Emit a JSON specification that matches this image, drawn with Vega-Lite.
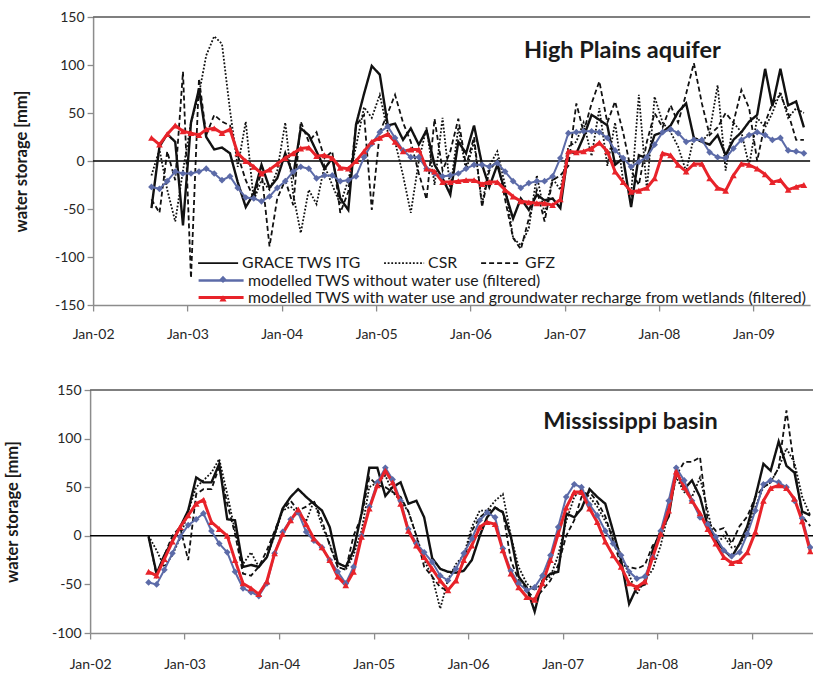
{
"$schema": "https://vega.github.io/schema/vega-lite/v6.json",
"padding": {"left": 4, "top": 10, "right": 0, "bottom": 0},
"background": "white",
"config": {
  "font": "Lato",
  "view": {"stroke": null},
  "axis": {"labelFont": "Lato", "labelFontSize": 14, "labelColor": "#262626", "titleFont": "Lato", "titleFontSize": 16.5, "titleFontWeight": "bold", "titleColor": "#1a1a1a", "domainColor": "#8c8c8c", "domainWidth": 1.5, "tickColor": "#8c8c8c", "tickWidth": 1.3, "grid": false},
  "legend": {"labelFont": "Lato", "labelFontSize": 15.8, "labelColor": "#1a1a1a", "padding": 0, "labelLimit": 0}
},
"datasets": {
"hp": [
{"d":"2002-08-15","itg":-49,"csr":-15,"gfz":-40,"nw":-27,"ww":24},
{"d":"2002-09-15","itg":15,"csr":12,"gfz":-54,"nw":-29,"ww":17},
{"d":"2002-10-15","itg":28,"csr":-30,"gfz":10,"nw":-21,"ww":28},
{"d":"2002-11-15","itg":20,"csr":-63,"gfz":-20,"nw":-11,"ww":37},
{"d":"2002-12-15","itg":-67,"csr":-10,"gfz":93,"nw":-13,"ww":31},
{"d":"2003-01-15","itg":40,"csr":40,"gfz":-122,"nw":-13,"ww":29},
{"d":"2003-02-15","itg":75,"csr":70,"gfz":86,"nw":-11,"ww":27},
{"d":"2003-03-15","itg":25,"csr":110,"gfz":27,"nw":-8,"ww":33},
{"d":"2003-04-15","itg":12,"csr":130,"gfz":48,"nw":-13,"ww":34},
{"d":"2003-05-15","itg":14,"csr":122,"gfz":41,"nw":-20,"ww":29},
{"d":"2003-06-15","itg":8,"csr":53,"gfz":37,"nw":-16,"ww":33},
{"d":"2003-07-15","itg":-22,"csr":-6,"gfz":6,"nw":-28,"ww":8},
{"d":"2003-08-15","itg":-48,"csr":41,"gfz":-20,"nw":-38,"ww":0},
{"d":"2003-09-15","itg":-34,"csr":-41,"gfz":-39,"nw":-39,"ww":-6},
{"d":"2003-10-15","itg":-4,"csr":-20,"gfz":-11,"nw":-42,"ww":-13},
{"d":"2003-11-15","itg":-28,"csr":-30,"gfz":-89,"nw":-37,"ww":-9},
{"d":"2003-12-15","itg":-18,"csr":-10,"gfz":-39,"nw":-28,"ww":-3},
{"d":"2004-01-15","itg":8,"csr":40,"gfz":-20,"nw":-21,"ww":3},
{"d":"2004-02-15","itg":-15,"csr":-35,"gfz":-46,"nw":-11,"ww":8},
{"d":"2004-03-15","itg":34,"csr":-75,"gfz":41,"nw":-6,"ww":13},
{"d":"2004-04-15","itg":27,"csr":-30,"gfz":20,"nw":-8,"ww":14},
{"d":"2004-05-15","itg":10,"csr":-45,"gfz":30,"nw":-18,"ww":5},
{"d":"2004-06-15","itg":-8,"csr":-5,"gfz":3,"nw":-15,"ww":6},
{"d":"2004-07-15","itg":3,"csr":-25,"gfz":10,"nw":-15,"ww":3},
{"d":"2004-08-15","itg":-39,"csr":-45,"gfz":-54,"nw":-21,"ww":-7},
{"d":"2004-09-15","itg":-51,"csr":-20,"gfz":-32,"nw":-20,"ww":-8},
{"d":"2004-10-15","itg":38,"csr":15,"gfz":37,"nw":-16,"ww":0},
{"d":"2004-11-15","itg":70,"csr":56,"gfz":48,"nw":4,"ww":10},
{"d":"2004-12-15","itg":99,"csr":45,"gfz":-51,"nw":18,"ww":20},
{"d":"2005-01-15","itg":90,"csr":69,"gfz":30,"nw":30,"ww":24},
{"d":"2005-02-15","itg":37,"csr":30,"gfz":50,"nw":36,"ww":28},
{"d":"2005-03-15","itg":39,"csr":20,"gfz":69,"nw":24,"ww":20},
{"d":"2005-04-15","itg":22,"csr":-15,"gfz":40,"nw":11,"ww":10},
{"d":"2005-05-15","itg":34,"csr":-54,"gfz":20,"nw":4,"ww":12},
{"d":"2005-06-15","itg":17,"csr":0,"gfz":-13,"nw":4,"ww":12},
{"d":"2005-07-15","itg":32,"csr":35,"gfz":-40,"nw":-8,"ww":-8},
{"d":"2005-08-15","itg":-4,"csr":-25,"gfz":44,"nw":-13,"ww":-11},
{"d":"2005-09-15","itg":-18,"csr":45,"gfz":-10,"nw":-16,"ww":-22},
{"d":"2005-10-15","itg":-35,"csr":-30,"gfz":10,"nw":-15,"ww":-22},
{"d":"2005-11-15","itg":20,"csr":35,"gfz":44,"nw":-13,"ww":-21},
{"d":"2005-12-15","itg":8,"csr":-10,"gfz":-5,"nw":-8,"ww":-20},
{"d":"2006-01-15","itg":37,"csr":20,"gfz":25,"nw":-4,"ww":-20},
{"d":"2006-02-15","itg":-4,"csr":-45,"gfz":-48,"nw":-4,"ww":-24},
{"d":"2006-03-15","itg":-27,"csr":-5,"gfz":-10,"nw":-6,"ww":-22},
{"d":"2006-04-15","itg":-4,"csr":10,"gfz":1,"nw":-2,"ww":-22},
{"d":"2006-05-15","itg":-32,"csr":-25,"gfz":-40,"nw":-11,"ww":-30},
{"d":"2006-06-15","itg":-60,"csr":-80,"gfz":-80,"nw":-21,"ww":-37},
{"d":"2006-07-15","itg":-39,"csr":-88,"gfz":-92,"nw":-28,"ww":-42},
{"d":"2006-08-15","itg":-51,"csr":-70,"gfz":-60,"nw":-23,"ww":-43},
{"d":"2006-09-15","itg":-35,"csr":-15,"gfz":-30,"nw":-21,"ww":-44},
{"d":"2006-10-15","itg":-41,"csr":-55,"gfz":-63,"nw":-21,"ww":-44},
{"d":"2006-11-15","itg":-39,"csr":-18,"gfz":-20,"nw":-16,"ww":-46},
{"d":"2006-12-15","itg":-49,"csr":-30,"gfz":-15,"nw":3,"ww":-40},
{"d":"2007-01-15","itg":10,"csr":15,"gfz":-5,"nw":29,"ww":10},
{"d":"2007-02-15","itg":8,"csr":20,"gfz":60,"nw":30,"ww":9},
{"d":"2007-03-15","itg":25,"csr":40,"gfz":30,"nw":31,"ww":10},
{"d":"2007-04-15","itg":48,"csr":5,"gfz":60,"nw":31,"ww":13},
{"d":"2007-05-15","itg":43,"csr":55,"gfz":83,"nw":30,"ww":19},
{"d":"2007-06-15","itg":37,"csr":-5,"gfz":40,"nw":24,"ww":10},
{"d":"2007-07-15","itg":-4,"csr":40,"gfz":62,"nw":11,"ww":-11},
{"d":"2007-08-15","itg":3,"csr":-20,"gfz":30,"nw":3,"ww":-22},
{"d":"2007-09-15","itg":-48,"csr":-35,"gfz":-10,"nw":-6,"ww":-32},
{"d":"2007-10-15","itg":6,"csr":69,"gfz":-25,"nw":-1,"ww":-31},
{"d":"2007-11-15","itg":3,"csr":-30,"gfz":20,"nw":4,"ww":-28},
{"d":"2007-12-15","itg":27,"csr":67,"gfz":50,"nw":17,"ww":-18},
{"d":"2008-01-15","itg":30,"csr":40,"gfz":35,"nw":30,"ww":8},
{"d":"2008-02-15","itg":37,"csr":30,"gfz":58,"nw":33,"ww":6},
{"d":"2008-03-15","itg":51,"csr":15,"gfz":40,"nw":29,"ww":-4},
{"d":"2008-04-15","itg":60,"csr":-11,"gfz":70,"nw":20,"ww":-11},
{"d":"2008-05-15","itg":24,"csr":25,"gfz":102,"nw":22,"ww":-3},
{"d":"2008-06-15","itg":20,"csr":20,"gfz":60,"nw":22,"ww":-3},
{"d":"2008-07-15","itg":17,"csr":30,"gfz":27,"nw":9,"ww":-18},
{"d":"2008-08-15","itg":27,"csr":79,"gfz":35,"nw":4,"ww":-28},
{"d":"2008-09-15","itg":6,"csr":-10,"gfz":50,"nw":3,"ww":-31},
{"d":"2008-10-15","itg":22,"csr":40,"gfz":40,"nw":13,"ww":-15},
{"d":"2008-11-15","itg":30,"csr":30,"gfz":74,"nw":22,"ww":-3},
{"d":"2008-12-15","itg":41,"csr":-5,"gfz":55,"nw":27,"ww":-4},
{"d":"2009-01-15","itg":48,"csr":45,"gfz":0,"nw":30,"ww":-8},
{"d":"2009-02-15","itg":96,"csr":35,"gfz":40,"nw":27,"ww":-14},
{"d":"2009-03-15","itg":57,"csr":50,"gfz":60,"nw":22,"ww":-22},
{"d":"2009-04-15","itg":96,"csr":72,"gfz":69,"nw":24,"ww":-20},
{"d":"2009-05-15","itg":58,"csr":45,"gfz":50,"nw":11,"ww":-30},
{"d":"2009-06-15","itg":62,"csr":55,"gfz":22,"nw":10,"ww":-27},
{"d":"2009-07-15","itg":35,"csr":50,"gfz":22,"nw":8,"ww":-25}
],
"ms": [
{"d":"2002-08-15","itg":-1,"csr":0,"gfz":0,"nw":-48,"ww":-37},
{"d":"2002-09-15","itg":-39,"csr":-15,"gfz":-41,"nw":-50,"ww":-41},
{"d":"2002-10-15","itg":-20,"csr":-32,"gfz":-20,"nw":-35,"ww":-24},
{"d":"2002-11-15","itg":-5,"csr":-20,"gfz":0,"nw":-18,"ww":-6},
{"d":"2002-12-15","itg":9,"csr":-2,"gfz":9,"nw":-1,"ww":9},
{"d":"2003-01-15","itg":26,"csr":25,"gfz":-25,"nw":11,"ww":21},
{"d":"2003-02-15","itg":60,"csr":50,"gfz":43,"nw":17,"ww":33},
{"d":"2003-03-15","itg":55,"csr":57,"gfz":48,"nw":23,"ww":37},
{"d":"2003-04-15","itg":55,"csr":65,"gfz":48,"nw":5,"ww":14},
{"d":"2003-05-15","itg":74,"csr":79,"gfz":71,"nw":-8,"ww":7},
{"d":"2003-06-15","itg":17,"csr":43,"gfz":33,"nw":-17,"ww":0},
{"d":"2003-07-15","itg":16,"csr":5,"gfz":2,"nw":-37,"ww":-25},
{"d":"2003-08-15","itg":-32,"csr":-29,"gfz":-39,"nw":-54,"ww":-49},
{"d":"2003-09-15","itg":-30,"csr":-17,"gfz":-41,"nw":-58,"ww":-54},
{"d":"2003-10-15","itg":-32,"csr":-32,"gfz":-32,"nw":-62,"ww":-60},
{"d":"2003-11-15","itg":-22,"csr":-22,"gfz":-15,"nw":-49,"ww":-47},
{"d":"2003-12-15","itg":2,"csr":0,"gfz":5,"nw":-18,"ww":-18},
{"d":"2004-01-15","itg":28,"csr":26,"gfz":26,"nw":4,"ww":2},
{"d":"2004-02-15","itg":40,"csr":30,"gfz":36,"nw":17,"ww":16},
{"d":"2004-03-15","itg":48,"csr":23,"gfz":26,"nw":24,"ww":27},
{"d":"2004-04-15","itg":40,"csr":15,"gfz":30,"nw":4,"ww":12},
{"d":"2004-05-15","itg":33,"csr":36,"gfz":36,"nw":-5,"ww":-3},
{"d":"2004-06-15","itg":26,"csr":10,"gfz":16,"nw":-12,"ww":-12},
{"d":"2004-07-15","itg":9,"csr":-8,"gfz":-10,"nw":-25,"ww":-25},
{"d":"2004-08-15","itg":-28,"csr":-32,"gfz":-32,"nw":-37,"ww":-42},
{"d":"2004-09-15","itg":-32,"csr":-35,"gfz":-35,"nw":-49,"ww":-51},
{"d":"2004-10-15","itg":-15,"csr":-20,"gfz":0,"nw":-32,"ww":-37},
{"d":"2004-11-15","itg":23,"csr":5,"gfz":20,"nw":0,"ww":-1},
{"d":"2004-12-15","itg":70,"csr":50,"gfz":60,"nw":30,"ww":28},
{"d":"2005-01-15","itg":70,"csr":55,"gfz":52,"nw":55,"ww":52},
{"d":"2005-02-15","itg":41,"csr":62,"gfz":50,"nw":70,"ww":67},
{"d":"2005-03-15","itg":50,"csr":45,"gfz":45,"nw":58,"ww":55},
{"d":"2005-04-15","itg":55,"csr":36,"gfz":40,"nw":36,"ww":33},
{"d":"2005-05-15","itg":33,"csr":25,"gfz":25,"nw":7,"ww":5},
{"d":"2005-06-15","itg":36,"csr":0,"gfz":0,"nw":-8,"ww":-10},
{"d":"2005-07-15","itg":19,"csr":-25,"gfz":-32,"nw":-17,"ww":-22},
{"d":"2005-08-15","itg":-23,"csr":-42,"gfz":-42,"nw":-27,"ww":-34},
{"d":"2005-09-15","itg":-34,"csr":-75,"gfz":-53,"nw":-41,"ww":-46},
{"d":"2005-10-15","itg":-37,"csr":-45,"gfz":-56,"nw":-46,"ww":-56},
{"d":"2005-11-15","itg":-38,"csr":-29,"gfz":-46,"nw":-34,"ww":-46},
{"d":"2005-12-15","itg":-36,"csr":-20,"gfz":-25,"nw":-18,"ww":-25},
{"d":"2006-01-15","itg":-25,"csr":9,"gfz":5,"nw":-3,"ww":-10},
{"d":"2006-02-15","itg":0,"csr":26,"gfz":19,"nw":16,"ww":9},
{"d":"2006-03-15","itg":19,"csr":26,"gfz":25,"nw":24,"ww":14},
{"d":"2006-04-15","itg":29,"csr":36,"gfz":29,"nw":19,"ww":12},
{"d":"2006-05-15","itg":24,"csr":43,"gfz":25,"nw":-13,"ww":-15},
{"d":"2006-06-15","itg":-1,"csr":0,"gfz":-25,"nw":-36,"ww":-39},
{"d":"2006-07-15","itg":-42,"csr":-32,"gfz":-46,"nw":-49,"ww":-53},
{"d":"2006-08-15","itg":-53,"csr":-49,"gfz":-56,"nw":-56,"ww":-63},
{"d":"2006-09-15","itg":-78,"csr":-56,"gfz":-65,"nw":-53,"ww":-66},
{"d":"2006-10-15","itg":-46,"csr":-48,"gfz":-56,"nw":-41,"ww":-49},
{"d":"2006-11-15","itg":-39,"csr":-42,"gfz":-46,"nw":-20,"ww":-25},
{"d":"2006-12-15","itg":-37,"csr":-20,"gfz":-30,"nw":9,"ww":2},
{"d":"2007-01-15","itg":23,"csr":15,"gfz":0,"nw":40,"ww":29},
{"d":"2007-02-15","itg":19,"csr":40,"gfz":16,"nw":53,"ww":45},
{"d":"2007-03-15","itg":28,"csr":48,"gfz":40,"nw":50,"ww":45},
{"d":"2007-04-15","itg":48,"csr":40,"gfz":45,"nw":32,"ww":28},
{"d":"2007-05-15","itg":40,"csr":30,"gfz":35,"nw":21,"ww":14},
{"d":"2007-06-15","itg":33,"csr":15,"gfz":20,"nw":5,"ww":-6},
{"d":"2007-07-15","itg":5,"csr":0,"gfz":-5,"nw":-8,"ww":-20},
{"d":"2007-08-15","itg":-25,"csr":-20,"gfz":-30,"nw":-20,"ww":-32},
{"d":"2007-09-15","itg":-70,"csr":-40,"gfz":-32,"nw":-37,"ww":-49},
{"d":"2007-10-15","itg":-53,"csr":-60,"gfz":-34,"nw":-44,"ww":-53},
{"d":"2007-11-15","itg":-50,"csr":-45,"gfz":-30,"nw":-42,"ww":-47},
{"d":"2007-12-15","itg":-15,"csr":-35,"gfz":-10,"nw":-22,"ww":-22},
{"d":"2008-01-15","itg":5,"csr":-10,"gfz":0,"nw":5,"ww":2},
{"d":"2008-02-15","itg":20,"csr":25,"gfz":30,"nw":36,"ww":26},
{"d":"2008-03-15","itg":67,"csr":60,"gfz":62,"nw":70,"ww":66},
{"d":"2008-04-15","itg":48,"csr":45,"gfz":76,"nw":57,"ww":50},
{"d":"2008-05-15","itg":57,"csr":40,"gfz":76,"nw":36,"ww":36},
{"d":"2008-06-15","itg":40,"csr":60,"gfz":81,"nw":19,"ww":23},
{"d":"2008-07-15","itg":10,"csr":25,"gfz":15,"nw":12,"ww":7},
{"d":"2008-08-15","itg":-5,"csr":-10,"gfz":5,"nw":-1,"ww":-8},
{"d":"2008-09-15","itg":-15,"csr":0,"gfz":8,"nw":-15,"ww":-22},
{"d":"2008-10-15","itg":-22,"csr":-12,"gfz":-8,"nw":-21,"ww":-28},
{"d":"2008-11-15","itg":-8,"csr":-10,"gfz":10,"nw":-17,"ww":-26},
{"d":"2008-12-15","itg":10,"csr":5,"gfz":20,"nw":2,"ww":-17},
{"d":"2009-01-15","itg":40,"csr":30,"gfz":40,"nw":26,"ww":4},
{"d":"2009-02-15","itg":74,"csr":50,"gfz":50,"nw":53,"ww":36},
{"d":"2009-03-15","itg":67,"csr":55,"gfz":55,"nw":57,"ww":49},
{"d":"2009-04-15","itg":97,"csr":70,"gfz":70,"nw":55,"ww":52},
{"d":"2009-05-15","itg":72,"csr":90,"gfz":129,"nw":50,"ww":49},
{"d":"2009-06-15","itg":65,"csr":75,"gfz":70,"nw":36,"ww":38},
{"d":"2009-07-15","itg":25,"csr":40,"gfz":20,"nw":18,"ww":15},
{"d":"2009-08-15","itg":21,"csr":21,"gfz":10,"nw":-12,"ww":-16}
]
},
"resolve": {"scale": {"color": "independent", "stroke": "independent", "fill": "independent", "shape": "independent", "strokeDash": "independent"}},
"columns": 1,
"center": true,
"spacing": 42,
"concat": [
{
  "width": 717, "height": 288,
  "data": {"name": "hp"},
  "layer": [
    {"data": {"values": [{}]}, "mark": {"type": "rule", "color": "#555555", "strokeWidth": 1.3}, "encoding": {"y": {"datum": 150}}},
    {"data": {"values": [{}]}, "mark": {"type": "rule", "color": "#000000", "strokeWidth": 1.6}, "encoding": {"y": {"datum": 0}}},
    {"transform": [{"fold": ["itg","csr","gfz","nw","ww"], "as": ["s","v"]}, {"filter": "datum.s == 'itg'"}],
     "mark": {"type": "line", "color": "#111111", "strokeWidth": 2.4, "clip": true},
     "encoding": {
       "x": {"field": "d", "type": "temporal", "scale": {"domain": [{"year": 2002, "month": 1, "date": 1}, {"year": 2009, "month": 8, "date": 8}], "nice": false},
             "axis": {"values": [{"year":2002,"month":1,"date":1},{"year":2003,"month":1,"date":1},{"year":2004,"month":1,"date":1},{"year":2005,"month":1,"date":1},{"year":2006,"month":1,"date":1},{"year":2007,"month":1,"date":1},{"year":2008,"month":1,"date":1},{"year":2009,"month":1,"date":1}], "format": "%b-%y", "title": null, "tickSize": 6, "labelPadding": 16, "labelFlush": false, "labelOverlap": false}},
       "y": {"field": "v", "type": "quantitative", "scale": {"domain": [-150, 150], "nice": false},
             "axis": {"values": [-150,-100,-50,0,50,100,150], "labelExpr": "'' + datum.value", "tickSize": 6, "labelPadding": 3, "title": "water storage [mm]", "titlePadding": 25}},
       "strokeDash": {"field": "s", "type": "nominal", "scale": {"domain": ["itg","csr","gfz"], "range": [[1,0],[1.8,1.8],[5,3]]},
             "legend": {"orient": "none", "legendX": 104, "legendY": 225, "direction": "horizontal", "title": null, "symbolType": "stroke", "symbolSize": 1600, "symbolStrokeWidth": 1.9, "symbolStrokeColor": "#111111", "columnPadding": 19, "labelOffset": 3,
               "labelExpr": "datum.value == 'itg' ? 'GRACE TWS ITG' : datum.value == 'csr' ? 'CSR' : 'GFZ'"}}
     }},
    {"transform": [{"fold": ["itg","csr","gfz","nw","ww"], "as": ["s","v"]}, {"filter": "datum.s == 'csr' || datum.s == 'gfz'"}],
     "mark": {"type": "line", "color": "#111111", "strokeWidth": 1.8, "clip": true},
     "encoding": {
       "x": {"field": "d", "type": "temporal"},
       "y": {"field": "v", "type": "quantitative"},
       "strokeDash": {"field": "s", "type": "nominal", "scale": {"domain": ["itg","csr","gfz"], "range": [[1,0],[1.8,1.8],[5,3]]}}
     }},
    {"transform": [{"fold": ["itg","csr","gfz","nw","ww"], "as": ["s","v"]}, {"filter": "datum.s == 'nw'"}],
     "mark": {"type": "line", "strokeWidth": 2, "clip": true},
     "encoding": {
       "x": {"field": "d", "type": "temporal"},
       "y": {"field": "v", "type": "quantitative"},
       "color": {"field": "s", "type": "nominal", "scale": {"domain": ["nw"], "range": ["#5C6BA8"]},
         "legend": {"orient": "none", "legendX": 104, "legendY": 239.5, "direction": "vertical", "title": null, "symbolType": "stroke", "symbolSize": 2025, "symbolStrokeWidth": 2.4, "labelOffset": 3,
           "labelExpr": "'modelled TWS without water use (filtered)'"}}
     }},
    {"transform": [{"fold": ["itg","csr","gfz","nw","ww"], "as": ["s","v"]}, {"filter": "datum.s == 'ww'"}],
     "mark": {"type": "line", "strokeWidth": 3, "clip": true},
     "encoding": {
       "x": {"field": "d", "type": "temporal"},
       "y": {"field": "v", "type": "quantitative"},
       "stroke": {"field": "s", "type": "nominal", "scale": {"domain": ["ww"], "range": ["#E8232A"]},
         "legend": {"orient": "none", "legendX": 104, "legendY": 256.5, "direction": "vertical", "title": null, "symbolType": "stroke", "symbolSize": 2025, "symbolStrokeWidth": 3, "labelOffset": 3,
           "labelExpr": "'modelled TWS with water use and groundwater recharge from wetlands (filtered)'"}}
     }},
    {"transform": [{"fold": ["itg","csr","gfz","nw","ww"], "as": ["s","v"]}, {"filter": "datum.s == 'nw' || datum.s == 'ww'"}],
     "mark": {"type": "point", "filled": true, "size": 45, "opacity": 1, "strokeWidth": 0, "clip": true},
     "encoding": {
       "x": {"field": "d", "type": "temporal"},
       "y": {"field": "v", "type": "quantitative"},
       "fill": {"field": "s", "type": "nominal", "scale": {"range": ["#5C6BA8","#E8232A"]},
         "legend": {"orient": "none", "legendX": 122, "legendY": 254.5, "direction": "vertical", "title": null, "symbolSize": 50, "rowPadding": 2, "labelExpr": "''", "symbolStrokeWidth": 0, "symbolOpacity": 1}},
       "shape": {"field": "s", "type": "nominal", "scale": {"range": ["diamond","triangle-up"]},
         "legend": {"orient": "none", "legendX": 122, "legendY": 254.5, "direction": "vertical", "title": null, "symbolSize": 50, "rowPadding": 2, "labelExpr": "''", "symbolStrokeWidth": 0, "symbolOpacity": 1}}
     }},
    {"data": {"values": [{}]},
     "mark": {"type": "text", "font": "Lato", "fontSize": 23.5, "fontWeight": "bold", "color": "#1a1a1a", "align": "center", "baseline": "middle"},
     "encoding": {"x": {"datum": {"year": 2007, "month": 8, "date": 12}, "type": "temporal"}, "y": {"datum": 115}, "text": {"value": "High Plains aquifer"}}}
  ]
},
{
  "width": 723, "height": 243,
  "data": {"name": "ms"},
  "layer": [
    {"data": {"values": [{}]}, "mark": {"type": "rule", "color": "#555555", "strokeWidth": 1.3}, "encoding": {"y": {"datum": 150}}},
    {"data": {"values": [{}]}, "mark": {"type": "rule", "color": "#000000", "strokeWidth": 1.6}, "encoding": {"y": {"datum": 0}}},
    {"transform": [{"fold": ["itg","csr","gfz","nw","ww"], "as": ["s","v"]}, {"filter": "datum.s == 'itg'"}],
     "mark": {"type": "line", "color": "#111111", "strokeWidth": 2.4, "clip": true},
     "encoding": {
       "x": {"field": "d", "type": "temporal", "scale": {"domain": [{"year": 2002, "month": 1, "date": 1}, {"year": 2009, "month": 8, "date": 26}], "nice": false},
             "axis": {"values": [{"year":2002,"month":1,"date":1},{"year":2003,"month":1,"date":1},{"year":2004,"month":1,"date":1},{"year":2005,"month":1,"date":1},{"year":2006,"month":1,"date":1},{"year":2007,"month":1,"date":1},{"year":2008,"month":1,"date":1},{"year":2009,"month":1,"date":1}], "format": "%b-%y", "title": null, "tickSize": 6, "labelPadding": 18, "labelFlush": false, "labelOverlap": false}},
       "y": {"field": "v", "type": "quantitative", "scale": {"domain": [-100, 150], "nice": false},
             "axis": {"values": [-100,-50,0,50,100,150], "labelExpr": "'' + datum.value", "tickSize": 6, "labelPadding": 3, "title": "water storage [mm]", "titlePadding": 31}},
       "strokeDash": {"field": "s", "type": "nominal", "scale": {"domain": ["itg","csr","gfz"], "range": [[1,0],[1.8,1.8],[5,3]]}, "legend": null}
     }},
    {"transform": [{"fold": ["itg","csr","gfz","nw","ww"], "as": ["s","v"]}, {"filter": "datum.s == 'csr' || datum.s == 'gfz'"}],
     "mark": {"type": "line", "color": "#111111", "strokeWidth": 1.8, "clip": true},
     "encoding": {
       "x": {"field": "d", "type": "temporal"},
       "y": {"field": "v", "type": "quantitative"},
       "strokeDash": {"field": "s", "type": "nominal", "scale": {"domain": ["itg","csr","gfz"], "range": [[1,0],[1.8,1.8],[5,3]]}, "legend": null}
     }},
    {"transform": [{"fold": ["itg","csr","gfz","nw","ww"], "as": ["s","v"]}, {"filter": "datum.s == 'nw'"}],
     "mark": {"type": "line", "strokeWidth": 2, "clip": true},
     "encoding": {
       "x": {"field": "d", "type": "temporal"},
       "y": {"field": "v", "type": "quantitative"},
       "color": {"field": "s", "type": "nominal", "scale": {"domain": ["nw"], "range": ["#5C6BA8"]}, "legend": null}
     }},
    {"transform": [{"fold": ["itg","csr","gfz","nw","ww"], "as": ["s","v"]}, {"filter": "datum.s == 'ww'"}],
     "mark": {"type": "line", "strokeWidth": 3, "clip": true},
     "encoding": {
       "x": {"field": "d", "type": "temporal"},
       "y": {"field": "v", "type": "quantitative"},
       "stroke": {"field": "s", "type": "nominal", "scale": {"domain": ["ww"], "range": ["#E8232A"]}, "legend": null}
     }},
    {"transform": [{"fold": ["itg","csr","gfz","nw","ww"], "as": ["s","v"]}, {"filter": "datum.s == 'nw' || datum.s == 'ww'"}],
     "mark": {"type": "point", "filled": true, "size": 45, "opacity": 1, "strokeWidth": 0, "clip": true},
     "encoding": {
       "x": {"field": "d", "type": "temporal"},
       "y": {"field": "v", "type": "quantitative"},
       "fill": {"field": "s", "type": "nominal", "scale": {"range": ["#5C6BA8","#E8232A"]}, "legend": null},
       "shape": {"field": "s", "type": "nominal", "scale": {"range": ["diamond","triangle-up"]}, "legend": null}
     }},
    {"data": {"values": [{}]},
     "mark": {"type": "text", "font": "Lato", "fontSize": 23.5, "fontWeight": "bold", "color": "#1a1a1a", "align": "center", "baseline": "middle"},
     "encoding": {"x": {"datum": {"year": 2007, "month": 9, "date": 20}, "type": "temporal"}, "y": {"datum": 117}, "text": {"value": "Mississippi basin"}}}
  ]
}
]
}
